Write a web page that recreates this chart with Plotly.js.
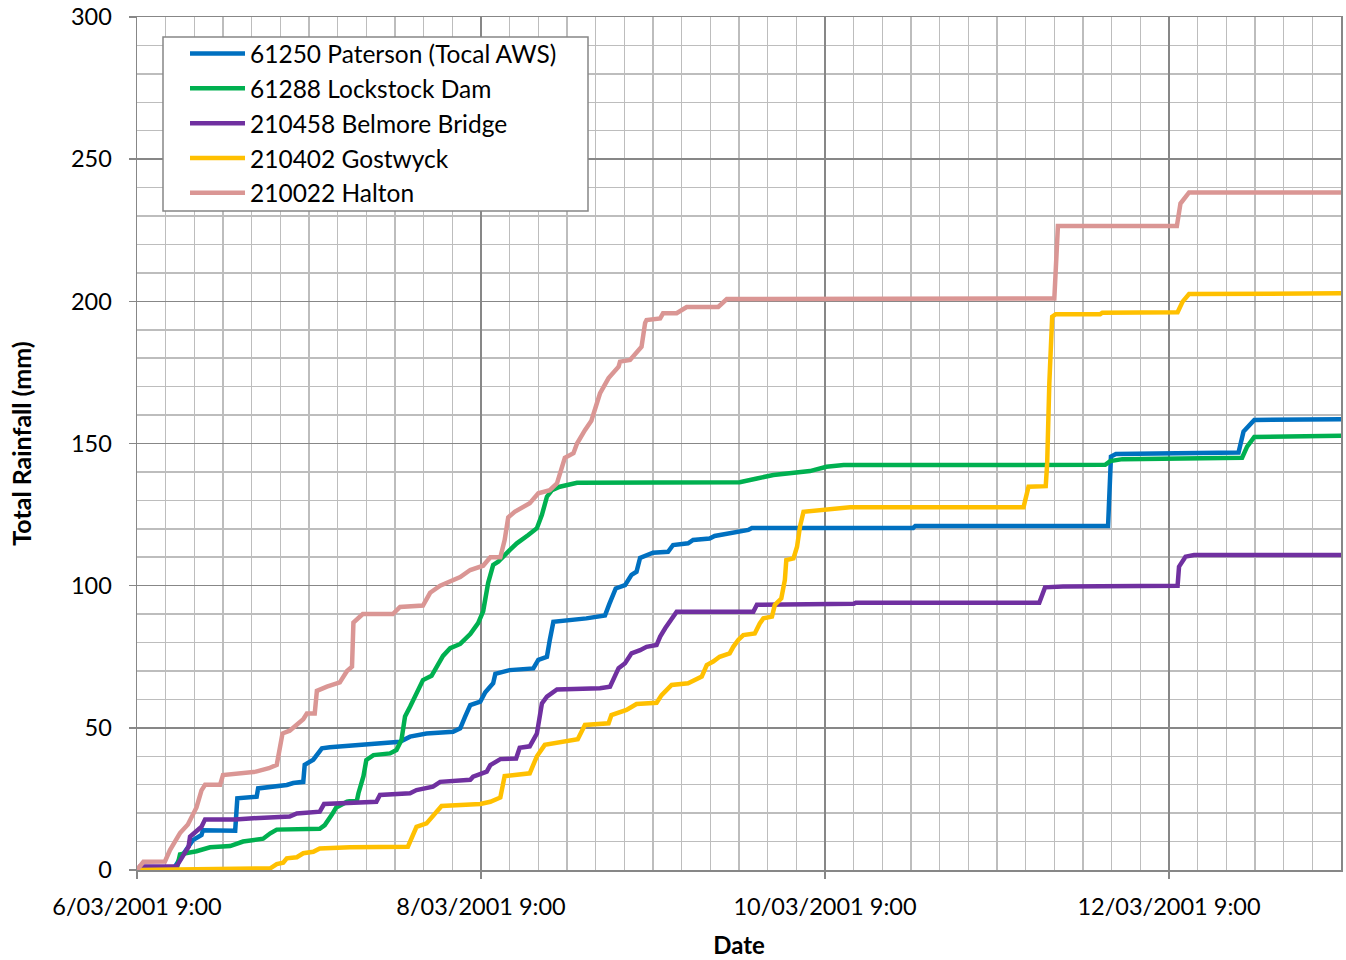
<!DOCTYPE html>
<html>
<head>
<meta charset="utf-8">
<script src="https://cdn.plot.ly/plotly-3.0.1.min.js"></script>
<style>html,body{margin:0;padding:0;background:#fff;}#chart{width:1346px;height:960px;}</style>
</head>
<body>
<div id="chart"></div>
<script>
// Hours elapsed since 6/03/2001 9:00 and cumulative rainfall (mm)
const seriesNames = ["61250 Paterson (Tocal AWS)", "61288 Lockstock Dam", "210458 Belmore Bridge", "210402 Gostwyck", "210022 Halton"];
const seriesColors = ["#0070C0", "#00B050", "#7030A0", "#FFC000", "#DA9694"];

const hoursPaterson = [0,5.0,6.0,7.1,7.8,9.0,9.2,13.7,14.0,16.7,16.9,20.9,21.8,23.2,23.4,24.6,25.1,25.8,26.9,32.1,36.7,38.1,40.4,44.1,45.1,45.8,46.5,47.9,48.6,49.7,50.0,52.0,55.3,56.0,57.2,57.6,58.1,62.7,65.3,65.9,66.8,68.1,69.0,69.7,70.2,72.0,74.1,74.8,76.9,77.6,79.9,80.6,82.7,83.4,85.3,85.8,108.3,108.6,135.5,135.9,136.6,153.7,154.4,155.9,168];
const rainPaterson = [0,0,4,8,10.5,12.3,14,13.8,25.2,25.8,28.7,29.9,30.6,31,37,38.8,40.4,42.8,43.2,44,45.1,46.9,48,48.6,49.8,54,58,59.2,62.5,65.7,69,70.3,70.9,73.9,75,80.9,87.3,88.5,89.5,93.5,99,100.2,103.8,104.9,109.8,111.6,111.9,114.3,114.9,116.1,116.6,117.5,118.4,119,119.6,120.3,120.3,121,121,145.4,146.3,146.8,154.2,158.3,158.5];

const hoursLockstock = [0,5.5,6.0,8.3,10.2,13.0,14.8,17.6,18.6,19.5,25.5,26.2,27.2,27.8,29.3,30.7,30.9,31.6,32.0,33.0,35.3,36.2,36.9,37.4,38.1,39.0,39.9,41.1,41.8,42.7,43.7,45.1,46.5,47.6,48.3,49.0,49.7,50.4,52.0,53.0,54.6,55.8,56.5,57.2,57.9,59.0,61.4,84.1,86.5,88.8,93.9,96.2,98.6,135.1,135.8,137.5,154.2,154.9,155.9,168];
const rainLockstock = [0,0,5.5,6.6,8,8.4,10,11,12.9,14.2,14.5,15.8,19.5,22,24,24.6,27,33,38.7,40.4,41,42.2,45.7,54,57.4,62.1,66.8,68.3,71.5,75.3,78,79.5,83,86.8,91,101,107.3,108.4,112.5,114.9,117.8,120.2,124.9,131.3,133.6,134.8,136.2,136.4,137.7,138.9,140.3,141.8,142.4,142.5,143.8,144.5,145,148.9,152.3,152.7];

const hoursBelmore = [0,0.4,5.5,6.2,7.2,7.4,8.3,9.0,9.5,13.7,16.2,21.3,22.3,25.5,26.1,33.4,33.9,38.1,39.0,41.3,42.3,46.5,46.9,48.8,49.3,50.7,52.9,53.4,54.8,55.8,56.5,57.2,58.6,64.6,66.0,66.7,67.2,68.1,69.0,70.2,71.1,72.5,73.0,73.7,74.4,75.3,86.0,86.5,100.0,100.3,125.9,126.7,129.2,145.2,145.4,146.3,147.5,168];
const rainBelmore = [0,1.2,1.2,4.1,8.2,11.7,13.5,15.2,17.8,17.8,18.2,18.8,19.9,20.5,23.2,24,26.4,27,28.1,29.3,31,31.7,32.8,34.6,36.9,39,39.2,43,43.5,48,58.6,61,63.5,63.9,64.5,68,71,72.7,76.2,77.3,78.5,79.1,82.1,85,87.3,90.8,90.8,93.3,93.6,94,94,99.4,99.7,100,106.7,110.2,110.8,110.8];

const hoursGostwyck = [0,15.3,18.6,19.5,20.4,20.9,22.3,23.2,24.6,25.5,29.7,37.8,38.6,39.0,40.4,41.3,42.5,47.9,49.3,50.7,51.3,54.8,55.8,56.9,59.0,61.5,62.5,65.8,66.2,68.3,69.7,72.5,73.2,73.9,74.6,76.9,78.1,78.8,79.5,80.4,81.3,82.7,83.2,83.9,84.6,86.2,86.9,87.4,88.6,89.0,89.9,90.4,90.6,91.6,92.1,92.5,93.0,95.3,99.0,99.5,123.7,124.4,126.8,127.0,127.3,127.7,128.2,134.4,134.7,145.2,145.9,146.8,168];
const rainGostwyck = [0,0.2,0.6,2.1,2.6,4.1,4.5,5.9,6.4,7.6,8,8.2,12.9,15.2,16.4,18.8,22.5,23.2,24,25.5,33,34,40,44,45,46,51,51.6,54.5,56.3,58.4,58.8,61.5,63.3,65.1,65.7,67.4,68,72.1,73.3,75,76.2,78.5,80.9,82.6,83.2,86.7,88.5,89.1,93.2,95.5,102,109,109.6,113.7,120.7,126,126.6,127.2,127.6,127.6,134.8,135,143,171.2,194.6,195.5,195.5,196,196.2,199.9,202.6,202.8];

const hoursHalton = [0,0.4,0.9,3.9,4.6,6.0,7.1,8.3,9.0,9.5,11.6,12.0,14.3,16.6,18.4,19.5,20.3,21.3,23.2,23.7,24.8,25.1,26.5,28.3,29.3,30.0,30.2,31.5,35.7,36.7,39.9,40.9,42.3,44.1,45.1,46.5,48.3,49.3,50.7,51.3,51.8,52.7,54.8,56.0,57.6,58.6,59.3,59.7,60.9,61.4,62.5,63.4,64.6,65.8,67.2,67.4,68.8,69.7,70.4,70.9,71.1,73.0,73.4,75.3,76.7,81.1,82.3,128.0,128.5,145.1,145.6,146.8,168];
const rainHalton = [0,1.5,2.9,3,7,13,16,22,28,30,30,33.4,34,34.6,35.8,37,48,49,53,55,55,63,64.5,66,70,71.5,87,90,90,92.5,93,97.5,100,102,103,105.5,107,110,110,116,124,126,129,132.5,133.6,136,141,145,146.6,150,154.7,158,167.6,173,177,178.8,179.4,182.3,184,192.4,193.4,194,195.8,195.8,198,198,200.8,201,226.5,226.5,234.4,238.3,238.3];

const xTickVals = ["2001-03-06 09:00", "2001-03-08 09:00", "2001-03-10 09:00", "2001-03-12 09:00"];
const xTickText = ["6/03/2001 9:00", "8/03/2001 9:00", "10/03/2001 9:00", "12/03/2001 9:00"];
const yTickVals = [0, 50, 100, 150, 200, 250, 300];

const startMs = Date.UTC(2001, 2, 6, 9, 0, 0);
const toMs = hrs => hrs.map(h => startMs + h * 3600000);

const hoursAll = [hoursPaterson, hoursLockstock, hoursBelmore, hoursGostwyck, hoursHalton];
const rainAll = [rainPaterson, rainLockstock, rainBelmore, rainGostwyck, rainHalton];

const traces = seriesNames.map((name, i) => ({
  type: 'scatter', mode: 'lines', name: name,
  x: toMs(hoursAll[i]), y: rainAll[i],
  line: {color: seriesColors[i], width: 4.5},
  legendgroup: 'g' + i
}));

const majorGrid = '#878787', minorGrid = '#BDBDBD';
const font = 'Lato, "Open Sans", sans-serif';

// plot-area pixel helpers (plot area spans 137..1341 x 17..870)
const PX = px => (px - 137) / 1204;
const PY = py => (870 - py) / 853;

const layout = {
  width: 1346, height: 960,
  margin: {l: 137, r: 5, t: 17, b: 90},
  paper_bgcolor: '#ffffff', plot_bgcolor: '#ffffff',
  font: {family: font, size: 23, color: '#000000'},
  showlegend: true,
  legend: {
    x: PX(185), y: PY(31), xanchor: 'left', yanchor: 'top',
    bgcolor: 'rgba(0,0,0,0)', borderwidth: 0,
    font: {family: font, size: 24.5, color: '#000'},
    traceorder: 'grouped', tracegroupgap: 0, itemwidth: 55
  },
  shapes: [{
    type: 'rect', xref: 'paper', yref: 'paper', layer: 'above',
    x0: PX(163), x1: PX(588), y0: PY(211), y1: PY(37),
    fillcolor: '#ffffff', line: {color: majorGrid, width: 1.5}
  }],
  xaxis: {
    type: 'date',
    range: [startMs, startMs + 168 * 3600000],
    tickmode: 'array', tickvals: xTickVals, ticktext: xTickText,
    ticks: 'outside', ticklen: 7, tickwidth: 1.5, tickcolor: majorGrid,
    ticklabelstandoff: 8,
    showgrid: true, gridcolor: majorGrid, gridwidth: 1.5,
    minor: {dtick: 4 * 3600000, tick0: startMs, showgrid: true, gridcolor: minorGrid, gridwidth: 1.5},
    showline: true, linecolor: majorGrid, linewidth: 1.5, mirror: true,
    zeroline: false,
    tickfont: {family: font, size: 23.5, color: '#000'},
    title: {text: 'Date', font: {family: font, size: 24, color: '#000', weight: 'bold'}, standoff: 18}
  },
  yaxis: {
    range: [0, 300], tickmode: 'array', tickvals: yTickVals,
    ticks: 'outside', ticklen: 7, tickwidth: 1.5, tickcolor: majorGrid,
    ticklabelstandoff: 12,
    showgrid: true, gridcolor: majorGrid, gridwidth: 1.5,
    minor: {dtick: 10, tick0: 0, showgrid: true, gridcolor: minorGrid, gridwidth: 1.5},
    showline: true, linecolor: majorGrid, linewidth: 1.5, mirror: true,
    zeroline: false,
    tickfont: {family: font, size: 23.5, color: '#000'},
    title: {text: 'Total Rainfall (mm)', font: {family: font, size: 25, color: '#000', weight: 'bold'}, standoff: 32}
  }
};

Plotly.newPlot('chart', traces, layout, {displayModeBar: false, staticPlot: true});
</script>
</body>
</html>
